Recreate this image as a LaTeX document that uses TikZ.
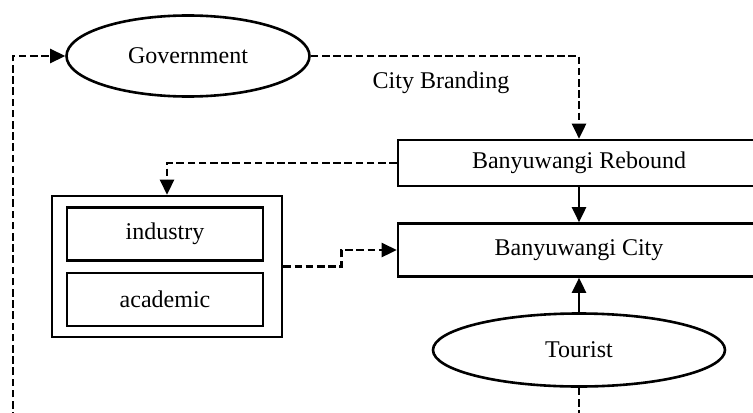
\documentclass[tikz,border=0pt]{standalone}
\usepackage{fontspec}
\setmainfont{Liberation Serif}
\usetikzlibrary{shapes.geometric,arrows.meta}

\begin{document}
\begin{tikzpicture}[x=0.5pt,y=-0.5pt,line width=1.3pt,
  font=\fontsize{12}{14}\selectfont,
  actor/.style={draw,ellipse,inner sep=0pt},
  block/.style={draw,rectangle,inner sep=0pt},
  link/.style={-{Triangle[length=7.5pt,width=7pt]}},
  dlink/.style={link,dash pattern=on 3.8pt off 1.8pt}]
\useasboundingbox (0,0) rectangle (753,412);
\clip (0,0) rectangle (753,412);

% actors
\node[actor,minimum width=121.5pt,minimum height=40.5pt] (gov) at (188,56) {Government};
\node[actor,minimum width=146pt,minimum height=36.5pt] (tourist) at (579,350) {Tourist};

% city boxes
\node[block,minimum width=181pt,minimum height=23pt] (rebound) at (579,163) {Banyuwangi Rebound};
\node[block,minimum width=181pt,minimum height=26.5pt] (city) at (579,250) {Banyuwangi City};

% industry and academic group
\node[block,minimum width=115pt,minimum height=70.5pt] (group) at (167,266.5) {};
\node[block,minimum width=98pt,minimum height=26.5pt] (industry) at (165,234) {industry};
\node[block,minimum width=98pt,minimum height=26.5pt] (academic) at (165,299.5) {academic};

\node (brand) at (441,83) {City Branding};
\coordinate (loop) at (13,440);

% connectors
\draw[dlink] (gov.east) -| (rebound.north);
\draw[dlink] (rebound.west) -| (group.north);
\draw[dlink] (group.east) -- ++(58,0) |- (city.west);
\draw[link] (rebound.south) -- (city.north);
\draw[link] (tourist.north) -- (city.south);
\draw[dlink] (tourist.south) |- (loop) |- (gov.west);

\end{tikzpicture}
\end{document}
